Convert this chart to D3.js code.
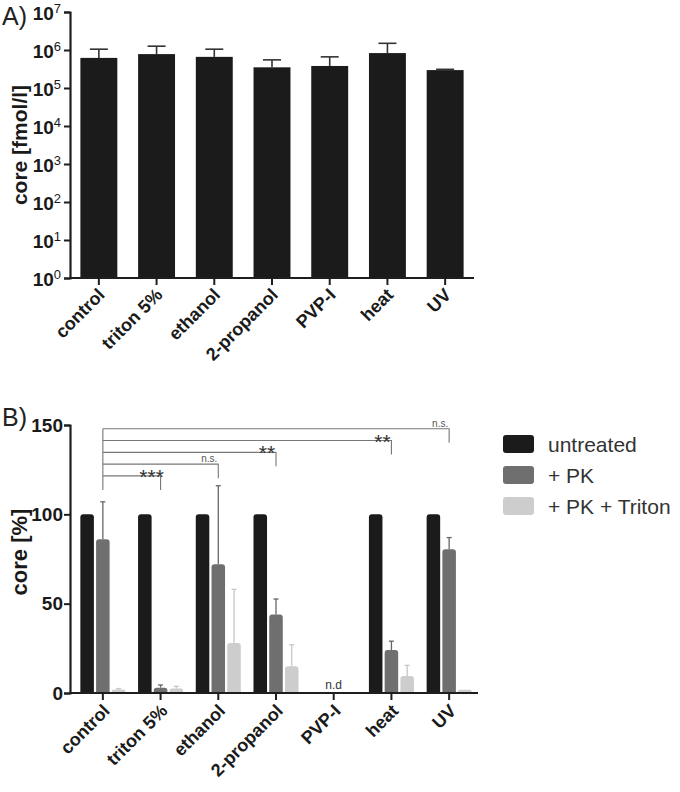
<!DOCTYPE html>
<html>
<head>
<meta charset="utf-8">
<script src="https://cdn.jsdelivr.net/npm/d3@7"></script>
<style>
  body { margin: 0; background: #fff; }
  text { font-family: "Liberation Sans", Arial, sans-serif; }
</style>
</head>
<body>
<div id="chart"></div>
<script>
// categories shared by both panels
const categories = ["control", "triton 5%", "ethanol", "2-propanol", "PVP-I", "heat", "UV"];

// panel A: core [fmol/l], mean and SD
const coreA = [6.2e5, 7.8e5, 6.6e5, 3.5e5, 3.8e5, 8.3e5, 2.96e5];
const coreASd = [4.3e5, 4.8e5, 3.9e5, 2.0e5, 2.8e5, 6.7e5, 1.4e4];
const logTicks = [0, 1, 2, 3, 4, 5, 6, 7];

// panel B: core [%], null = not determined
const seriesNames = ["untreated", "+ PK", "+ PK + Triton"];
const untreated = [100, 100, 100, 100, null, 100, 100];
const untreatedSd = [0, 0, 0, 0, null, 0, 0];
const pk = [86, 3, 72, 44, null, 24, 80.5];
const pkSd = [21, 1.5, 44, 8.6, null, 5, 6.5];
const pkTriton = [2, 2.5, 28, 15, null, 9.5, 1.8];
const pkTritonSd = [0.5, 1.2, 30, 12, null, 6, 0];
const linTicks = [0, 50, 100, 150];

// significance vs control
const sigTargets = ["triton 5%", "ethanol", "2-propanol", "heat", "UV"];
const sigLabels = ["***", "n.s.", "**", "**", "n.s."];

const colors = ["#1b1b1b", "#6f6f6f", "#cdcdcd"];
const axisColor = "#1e1e1e";

var svg = d3.select("#chart").append("svg")
  .attr("width", 680).attr("height", 792);

// ---------- panel A ----------
var xA = d3.scaleBand().domain(categories).range([70, 474]).paddingInner(0.36).paddingOuter(0.18);
var yA = d3.scaleLog().domain([1, 1e7]).range([278, 12]);

svg.append("text").attr("x", 2).attr("y", 25).attr("font-size", "25px").attr("fill", "#222").text("A)");

svg.selectAll(".barA")
  .data(categories)
  .enter().append("rect")
  .attr("class", "barA")
  .attr("x", function(d) { return xA(d); })
  .attr("width", xA.bandwidth())
  .attr("y", function(d, i) { return yA(coreA[i]); })
  .attr("height", function(d, i) { return yA(1) - yA(coreA[i]); })
  .attr("fill", colors[0]);

// error bars A
var errA = svg.selectAll(".errA").data(categories).enter().append("g").attr("class", "errA");
errA.append("line")
  .attr("x1", function(d) { return xA(d) + xA.bandwidth() / 2; })
  .attr("x2", function(d) { return xA(d) + xA.bandwidth() / 2; })
  .attr("y1", function(d, i) { return yA(coreA[i]); })
  .attr("y2", function(d, i) { return yA(coreA[i] + coreASd[i]); })
  .attr("stroke", "#333").attr("stroke-width", 1.6);
errA.append("line")
  .attr("x1", function(d) { return xA(d) + xA.bandwidth() / 2 - 9; })
  .attr("x2", function(d) { return xA(d) + xA.bandwidth() / 2 + 9; })
  .attr("y1", function(d, i) { return yA(coreA[i] + coreASd[i]); })
  .attr("y2", function(d, i) { return yA(coreA[i] + coreASd[i]); })
  .attr("stroke", "#333").attr("stroke-width", 1.6);

// y axis A
var gyA = svg.append("g").attr("transform", "translate(70,0)")
  .call(d3.axisLeft(yA).tickValues(logTicks.map(function(e) { return Math.pow(10, e); }))
    .tickSize(6).tickFormat(""));
gyA.select(".domain").attr("stroke", axisColor).attr("stroke-width", 2.2);
gyA.selectAll(".tick line").attr("stroke", axisColor).attr("stroke-width", 2);
gyA.selectAll(".tick").each(function(d) {
  var t = d3.select(this).append("text")
    .attr("x", -9).attr("dy", "0.38em").attr("text-anchor", "end")
    .attr("fill", "#1a1a1a").attr("font-size", "19px").attr("font-weight", "bold");
  t.append("tspan").text("10");
  t.append("tspan").attr("dy", "-0.55em").attr("font-size", "13px").attr("font-weight", "normal")
    .text(Math.round(Math.log10(d)));
});

// x axis A
var gxA = svg.append("g").attr("transform", "translate(0,278)")
  .call(d3.axisBottom(xA).tickSize(7).tickSizeOuter(0));
gxA.select(".domain").attr("stroke", axisColor).attr("stroke-width", 2.2)
  .attr("d", "M69,0H474");
gxA.selectAll(".tick line").attr("stroke", axisColor).attr("stroke-width", 2);
gxA.selectAll(".tick text")
  .attr("fill", "#1a1a1a").attr("font-size", "18px").attr("font-weight", "bold")
  .attr("text-anchor", "end").attr("dy", null).attr("y", 0)
  .attr("transform", "translate(7,18) rotate(-45)");

svg.append("text")
  .attr("transform", "translate(27,145) rotate(-90)")
  .attr("text-anchor", "middle").attr("font-size", "21px").attr("font-weight", "bold")
  .attr("fill", "#1a1a1a").text("core [fmol/l]");

// ---------- panel B ----------
var xB = d3.scaleBand().domain(categories).range([74, 478]).paddingInner(0.22).paddingOuter(0.11);
var xSub = d3.scaleBand().domain(seriesNames).range([0, xB.bandwidth()]).paddingInner(0.14);
var yB = d3.scaleLinear().domain([0, 150]).range([693, 425]);

svg.append("text").attr("x", 2).attr("y", 426).attr("font-size", "25px").attr("fill", "#222").text("B)");

var seriesVals = [untreated, pk, pkTriton];
var seriesSds = [untreatedSd, pkSd, pkTritonSd];
var errColors = ["#1b1b1b", "#666", "#c6c6c6"];

seriesNames.forEach(function(s, si) {
  var vals = seriesVals[si], sds = seriesSds[si];
  var idx = categories.map(function(c, i) { return i; }).filter(function(i) { return vals[i] != null; });

  // error bars behind bars
  var eg = svg.selectAll(".errB" + si).data(idx).enter().append("g").attr("class", "errB" + si)
    .filter(function(i) { return sds[i] > 0; });
  eg.append("line")
    .attr("x1", function(i) { return xB(categories[i]) + xSub(s) + xSub.bandwidth() / 2; })
    .attr("x2", function(i) { return xB(categories[i]) + xSub(s) + xSub.bandwidth() / 2; })
    .attr("y1", function(i) { return yB(vals[i]); })
    .attr("y2", function(i) { return yB(vals[i] + sds[i]); })
    .attr("stroke", errColors[si]).attr("stroke-width", 1.3);
  eg.append("line")
    .attr("x1", function(i) { return xB(categories[i]) + xSub(s) + xSub.bandwidth() / 2 - 2.5; })
    .attr("x2", function(i) { return xB(categories[i]) + xSub(s) + xSub.bandwidth() / 2 + 2.5; })
    .attr("y1", function(i) { return yB(vals[i] + sds[i]); })
    .attr("y2", function(i) { return yB(vals[i] + sds[i]); })
    .attr("stroke", errColors[si]).attr("stroke-width", 1.3);

  svg.selectAll(".barB" + si).data(idx).enter().append("path")
    .attr("class", "barB" + si)
    .attr("fill", colors[si])
    .attr("d", function(i) {
      var x0 = xB(categories[i]) + xSub(s), w = xSub.bandwidth();
      var top = yB(vals[i]), bot = yB(0);
      var r = Math.min(3, (bot - top) / 2);
      return "M" + x0 + "," + bot + "V" + (top + r) + "Q" + x0 + "," + top + " " + (x0 + r) + "," + top
        + "H" + (x0 + w - r) + "Q" + (x0 + w) + "," + top + " " + (x0 + w) + "," + (top + r) + "V" + bot + "Z";
    });
});

// n.d label
categories.forEach(function(c, i) {
  if (untreated[i] == null) {
    svg.append("text").attr("x", xB(c) + xB.bandwidth() / 2).attr("y", 689)
      .attr("text-anchor", "middle").attr("font-size", "12px").attr("fill", "#333").text("n.d");
  }
});

// significance brackets
var ctrlX = xB(categories[0]) + xB.bandwidth() / 2;
var bracketColor = "#777";
var lowestDrop = 0;
sigTargets.forEach(function(t, i) {
  var level = yB(121.5 + i * 6.6);
  var tx = xB(t) + xB.bandwidth() / 2;
  var drop = level + 14;
  if (i === 0) lowestDrop = drop;
  svg.append("path")
    .attr("d", "M" + ctrlX + "," + level + "H" + tx + "V" + drop)
    .attr("fill", "none").attr("stroke", bracketColor).attr("stroke-width", 1.1);
  var isStar = sigLabels[i].indexOf("*") >= 0;
  svg.append("text")
    .attr("x", tx - 9).attr("y", isStar ? level + 8 : level - 2)
    .attr("text-anchor", "middle")
    .attr("font-size", isStar ? "21px" : "10px")
    .attr("fill", isStar ? "#333" : "#555")
    .text(sigLabels[i]);
});
svg.append("line")
  .attr("x1", ctrlX).attr("x2", ctrlX)
  .attr("y1", yB(121.5 + (sigTargets.length - 1) * 6.6)).attr("y2", lowestDrop)
  .attr("stroke", bracketColor).attr("stroke-width", 1.1);

// y axis B
var gyB = svg.append("g").attr("transform", "translate(70,0)")
  .call(d3.axisLeft(yB).tickValues(linTicks).tickSize(6));
gyB.select(".domain").attr("stroke", axisColor).attr("stroke-width", 2.2);
gyB.selectAll(".tick line").attr("stroke", axisColor).attr("stroke-width", 2);
gyB.selectAll(".tick text").attr("x", -7)
  .attr("fill", "#1a1a1a").attr("font-size", "19px").attr("font-weight", "bold");

// x axis B
var gxB = svg.append("g").attr("transform", "translate(0,693)")
  .call(d3.axisBottom(xB).tickSize(7).tickSizeOuter(0));
gxB.select(".domain").attr("stroke", axisColor).attr("stroke-width", 2.2)
  .attr("d", "M69,0H478");
gxB.selectAll(".tick line").attr("stroke", axisColor).attr("stroke-width", 2);
gxB.selectAll(".tick text")
  .attr("fill", "#1a1a1a").attr("font-size", "18px").attr("font-weight", "bold")
  .attr("text-anchor", "end").attr("dy", null).attr("y", 0)
  .attr("transform", "translate(8,19) rotate(-45)");

svg.append("text")
  .attr("transform", "translate(27,552) rotate(-90)")
  .attr("text-anchor", "middle").attr("font-size", "22px").attr("font-weight", "bold")
  .attr("fill", "#1a1a1a").text("core [%]");

// legend
var legend = svg.selectAll(".legend").data(seriesNames).enter().append("g")
  .attr("class", "legend")
  .attr("transform", function(d, i) { return "translate(503," + (435 + i * 31) + ")"; });
legend.append("rect").attr("width", 31).attr("height", 18).attr("rx", 3)
  .attr("fill", function(d, i) { return colors[i]; });
legend.append("text").attr("x", 45).attr("y", 9).attr("dy", "0.36em")
  .attr("font-size", "21px").attr("fill", "#333").text(function(d) { return d; });
</script>
</body>
</html>
